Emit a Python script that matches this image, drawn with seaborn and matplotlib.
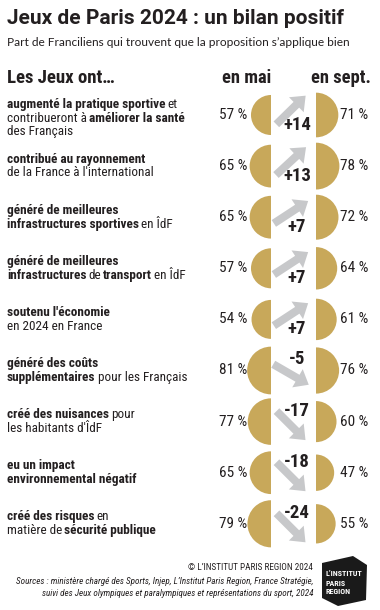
import numpy as np
import pandas as pd
import matplotlib as mpl
import matplotlib.pyplot as plt
import matplotlib.patches as mpatches
import seaborn as sns

# each label is a list of lines, each line a list of (text, bold) pieces
labels = [
    [[("augmenté la pratique sportive", True), ("et", False)],
     [("contribueront à", False), ("améliorer la santé", True)],
     [("des Français", False)]],
    [[("contribué au rayonnement", True)],
     [("de la France à l'international", False)]],
    [[("généré de meilleures", True)],
     [("infrastructures sportives", True), ("en ÎdF", False)]],
    [[("généré de meilleures", True)],
     [("infrastructures", True), ("de", False), ("transport", True), ("en ÎdF", False)]],
    [[("soutenu l'économie", True)],
     [("en 2024 en France", False)]],
    [[("généré des coûts", True)],
     [("supplémentaires", True), ("pour les Français", False)]],
    [[("créé des nuisances", True), ("pour", False)],
     [("les habitants d'ÎdF", False)]],
    [[("eu un impact", True)],
     [("environnemental négatif", True)]],
    [[("créé des risques", True), ("en", False)],
     [("matière de", False), ("sécurité publique", True)]],
]
mai = [57, 65, 65, 57, 54, 81, 77, 65, 79]
sept = [71, 78, 72, 64, 61, 76, 60, 47, 55]
evolution = [14, 13, 7, 7, 7, -5, -17, -18, -24]

GOLD = "#c8a85a"
GREY = "#c7c8ca"
DARK = "#231f20"
COND = ["Roboto Condensed", "Archivo Narrow", "DejaVu Sans"]

sns.set_theme(style="white")
plt.rcParams["font.family"] = COND

fig = plt.figure(figsize=(3.8, 6.1), dpi=100)
ax = fig.add_axes([0, 0, 1, 1])
ax.set_xlim(0, 380)
ax.set_ylim(610, 0)
ax.axis("off")
renderer = fig.canvas.get_renderer()


def measure(s, bold, size):
    t = ax.text(0, 0, s, fontsize=size, fontweight="bold" if bold else "normal")
    w = t.get_window_extent(renderer).width
    t.remove()
    return w


def advance(s, bold, size):
    # sentinel bars so the width counts spaces and side bearings
    return measure("|" + s + "|", bold, size) - measure("||", bold, size)


def draw_line(x, y, parts, size=9.5):
    for i, (s, bold) in enumerate(parts):
        if i > 0:
            x += 0.7 * advance(" ", False, size)
        ax.text(x, y, s, fontsize=size, fontweight="bold" if bold else "normal",
                va="center", ha="left", color=DARK)
        x += advance(s, bold, size)


# title block
ax.text(7, 19, "Jeux de Paris 2024 : un bilan positif", fontsize=15, fontweight="bold",
        family=["Roboto", "DejaVu Sans"], color=DARK, va="center")
ax.text(7, 42, "Part de Franciliens qui trouvent que la proposition s\u2019applique bien",
        fontsize=8.6, family=["Lato", "DejaVu Sans"], color=DARK, va="center")
ax.text(7, 78, "Les Jeux ont\u2026", fontsize=13.5, fontweight="bold", color=DARK, va="center")
ax.text(247, 78, "en mai", fontsize=13.3, fontweight="bold", color=DARK, va="center", ha="center")
ax.text(341, 78, "en sept.", fontsize=13.3, fontweight="bold", color=DARK, va="center", ha="center")

k = 2.65
for i in range(len(mai)):
    yc = 115 + 51.1 * i
    lines = labels[i]
    n = len(lines)
    for j, line in enumerate(lines):
        draw_line(7, yc + (j - (n - 1) / 2) * 13.8 + (3 if n == 3 else 0), line)

    c = evolution[i]
    ang = np.radians(min(45, 22 + 1.6 * abs(c)))
    L = 41
    dx, dy = L * np.cos(ang), L * np.sin(ang)
    if c > 0:
        cy = yc - 5
        ax.add_patch(mpatches.FancyArrow(291 - dx / 2, cy + dy / 2, dx, -dy, width=8,
                                         head_width=21, head_length=13,
                                         length_includes_head=True, color=GREY, lw=0))
        ax.text(297, yc + 10, f"+{c}", fontsize=13.5, fontweight="bold", color=DARK,
                ha="center", va="center")
    else:
        cy = yc + 4
        ax.add_patch(mpatches.FancyArrow(291 - dx / 2, cy - dy / 2, dx, dy, width=8,
                                         head_width=21, head_length=13,
                                         length_includes_head=True, color=GREY, lw=0))
        ax.text(297, yc - 11, f"{c}", fontsize=13.5, fontweight="bold", color=DARK,
                ha="center", va="center")

    ax.add_patch(mpatches.Wedge((271, yc), k * np.sqrt(mai[i]), 90, 270, color=GOLD, lw=0))
    ax.add_patch(mpatches.Wedge((316, yc), k * np.sqrt(sept[i]), -90, 90, color=GOLD, lw=0))
    ax.text(247, yc, f"{mai[i]} %", fontsize=11, color=DARK, ha="right", va="center")
    ax.text(340, yc, f"{sept[i]} %", fontsize=11, color=DARK, ha="left", va="center")

# footer
ax.text(313, 567, "\u00a9 L\u2019INSTITUT PARIS REGION 2024", fontsize=6.6, color=DARK,
        ha="right", va="center")
ax.text(313, 581, "Sources : ministère chargé des Sports, Injep, L\u2019Institut Paris Region, France Stratégie,",
        fontsize=6.6, style="italic", color=DARK, ha="right", va="center")
ax.text(313, 594, "suivi des Jeux olympiques et paralympiques et représentations du sport, 2024",
        fontsize=6.6, style="italic", color=DARK, ha="right", va="center")

# logo
ax.add_patch(mpatches.Polygon([(322, 563), (353, 556), (367, 565), (366, 600), (338, 606), (322, 598)],
                              closed=True, color="#1a1a1a", lw=0))
ax.text(325, 574, "L\u2019INSTITUT", fontsize=5.8, fontweight="bold", color="white", va="center")
ax.text(325, 584, "PARIS", fontsize=5.8, fontweight="bold", color="white", va="center")
ax.text(325, 591, "REGION", fontsize=5.8, fontweight="bold", color="white", va="center")

fig.savefig("out.png", dpi=100)
